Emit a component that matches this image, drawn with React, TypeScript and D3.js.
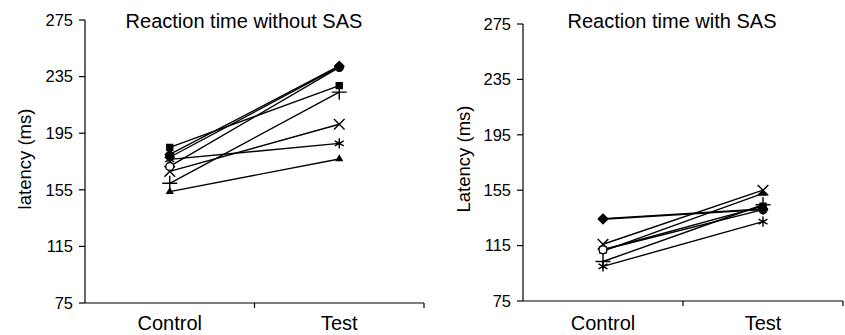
// App.tsx
import * as d3 from "d3";
import { useEffect, useRef } from "react";

const categories = ["Control", "Test"];
const yTicks = [75, 115, 155, 195, 235, 275];

// one marker per subject (series), same order in both panels
const markers = ["diamond", "square", "triangle", "x", "asterisk", "circle", "plus", "diamond"];

// Reaction time without SAS
const withoutControl = [180, 185, 153.7, 168, 176.5, 171.5, 159.6, 178];
const withoutTest = [242.5, 228.6, 176.8, 201.3, 187.8, 241.5, 224, 242];

// Reaction time with SAS
const withControl = [134, 112, 111, 116, 100, 112, 103.5, 134.5];
const withTest = [141, 143.5, 152.7, 155, 132.3, 141, 144.5, 141.5];

const FONT = "'Liberation Sans', Arial, sans-serif";

interface Panel {
  title: string;
  ylabel: string;
  control: number[];
  test: number[];
  left: number;
  right: number;
  top: number;
  bottom: number;
  labelX: number;
  titleX: number;
}

const panels: Panel[] = [
  {
    title: "Reaction time without SAS",
    ylabel: "latency (ms)",
    control: withoutControl,
    test: withoutTest,
    left: 85,
    right: 424,
    top: 20,
    bottom: 303,
    labelX: 31,
    titleX: 244,
  },
  {
    title: "Reaction time with SAS",
    ylabel: "Latency (ms)",
    control: withControl,
    test: withTest,
    left: 523,
    right: 843,
    top: 24,
    bottom: 301,
    labelX: 470,
    titleX: 672,
  },
];

function symbolFor(name: string) {
  switch (name) {
    case "diamond":
      return { type: d3.symbolSquare, size: 40, fill: "black", rot: 45 };
    case "square":
      return { type: d3.symbolSquare, size: 36, fill: "black", rot: 0 };
    case "triangle":
      return { type: d3.symbolTriangle, size: 14, fill: "black", rot: 0 };
    case "x":
      return { type: d3.symbolX, size: 75, fill: "none", rot: 0 };
    case "asterisk":
      return { type: d3.symbolAsterisk, size: 75, fill: "none", rot: 0 };
    case "circle":
      return { type: d3.symbolCircle, size: 50, fill: "white", rot: 0 };
    default:
      return { type: d3.symbolPlus, size: 75, fill: "none", rot: 0 };
  }
}

export default function App() {
  const ref = useRef<SVGSVGElement | null>(null);

  useEffect(() => {
    const svg = d3.select(ref.current);
    svg.selectAll("*").remove();

    panels.forEach((p) => {
      const x = d3.scaleBand<string>().domain(categories).range([p.left, p.right]);
      const y = d3.scaleLinear().domain([75, 275]).range([p.bottom, p.top]);
      const g = svg.append("g");

      // y axis
      g.append("line")
        .attr("x1", p.left).attr("x2", p.left)
        .attr("y1", y(275)).attr("y2", y(75))
        .attr("stroke", "black").attr("stroke-width", 1.2);
      yTicks.forEach((t) => {
        g.append("line")
          .attr("x1", p.left - 6).attr("x2", p.left)
          .attr("y1", y(t)).attr("y2", y(t))
          .attr("stroke", "black").attr("stroke-width", 1.2);
        g.append("text")
          .attr("x", p.left - 12)
          .attr("y", y(t))
          .attr("dy", "0.35em")
          .attr("text-anchor", "end")
          .style("font-family", FONT)
          .style("font-size", "16.5px")
          .text(t);
      });

      // x axis
      g.append("line")
        .attr("x1", p.left).attr("x2", p.right)
        .attr("y1", y(75)).attr("y2", y(75))
        .attr("stroke", "black").attr("stroke-width", 1.2);
      [x(categories[1]) as number, p.right].forEach((bx) => {
        g.append("line")
          .attr("x1", bx).attr("x2", bx)
          .attr("y1", y(75)).attr("y2", y(75) + 5)
          .attr("stroke", "black").attr("stroke-width", 1.2);
      });
      categories.forEach((c) => {
        g.append("text")
          .attr("x", (x(c) as number) + x.bandwidth() / 2)
          .attr("y", 330)
          .attr("text-anchor", "middle")
          .style("font-family", FONT)
          .style("font-size", "20px")
          .text(c);
      });

      // titles
      g.append("text")
        .attr("x", p.titleX)
        .attr("y", 28)
        .attr("text-anchor", "middle")
        .style("font-family", FONT)
        .style("font-size", "20px")
        .text(p.title);
      g.append("text")
        .attr("transform", `translate(${p.labelX},159) rotate(-90)`)
        .attr("text-anchor", "middle")
        .style("font-family", FONT)
        .style("font-size", "18.5px")
        .text(p.ylabel);

      const cx = (x("Control") as number) + x.bandwidth() / 2;
      const tx = (x("Test") as number) + x.bandwidth() / 2;

      // subject lines
      p.control.forEach((v, i) => {
        g.append("line")
          .attr("x1", cx).attr("y1", y(v))
          .attr("x2", tx).attr("y2", y(p.test[i]))
          .attr("stroke", "black").attr("stroke-width", 1.4);
      });

      // markers
      p.control.forEach((v, i) => {
        const s = symbolFor(markers[i]);
        const path = d3.symbol().type(s.type).size(s.size)();
        [
          [cx, v],
          [tx, p.test[i]],
        ].forEach(([px, pv]) => {
          g.append("path")
            .attr("d", path)
            .attr("transform", `translate(${px},${y(pv)}) rotate(${s.rot})`)
            .attr("fill", s.fill)
            .attr("stroke", "black")
            .attr("stroke-width", 1.4);
        });
      });
    });
  }, []);

  return <svg ref={ref} width={845} height={335} style={{ position: "absolute", left: 0, top: 0 }}></svg>;
}
